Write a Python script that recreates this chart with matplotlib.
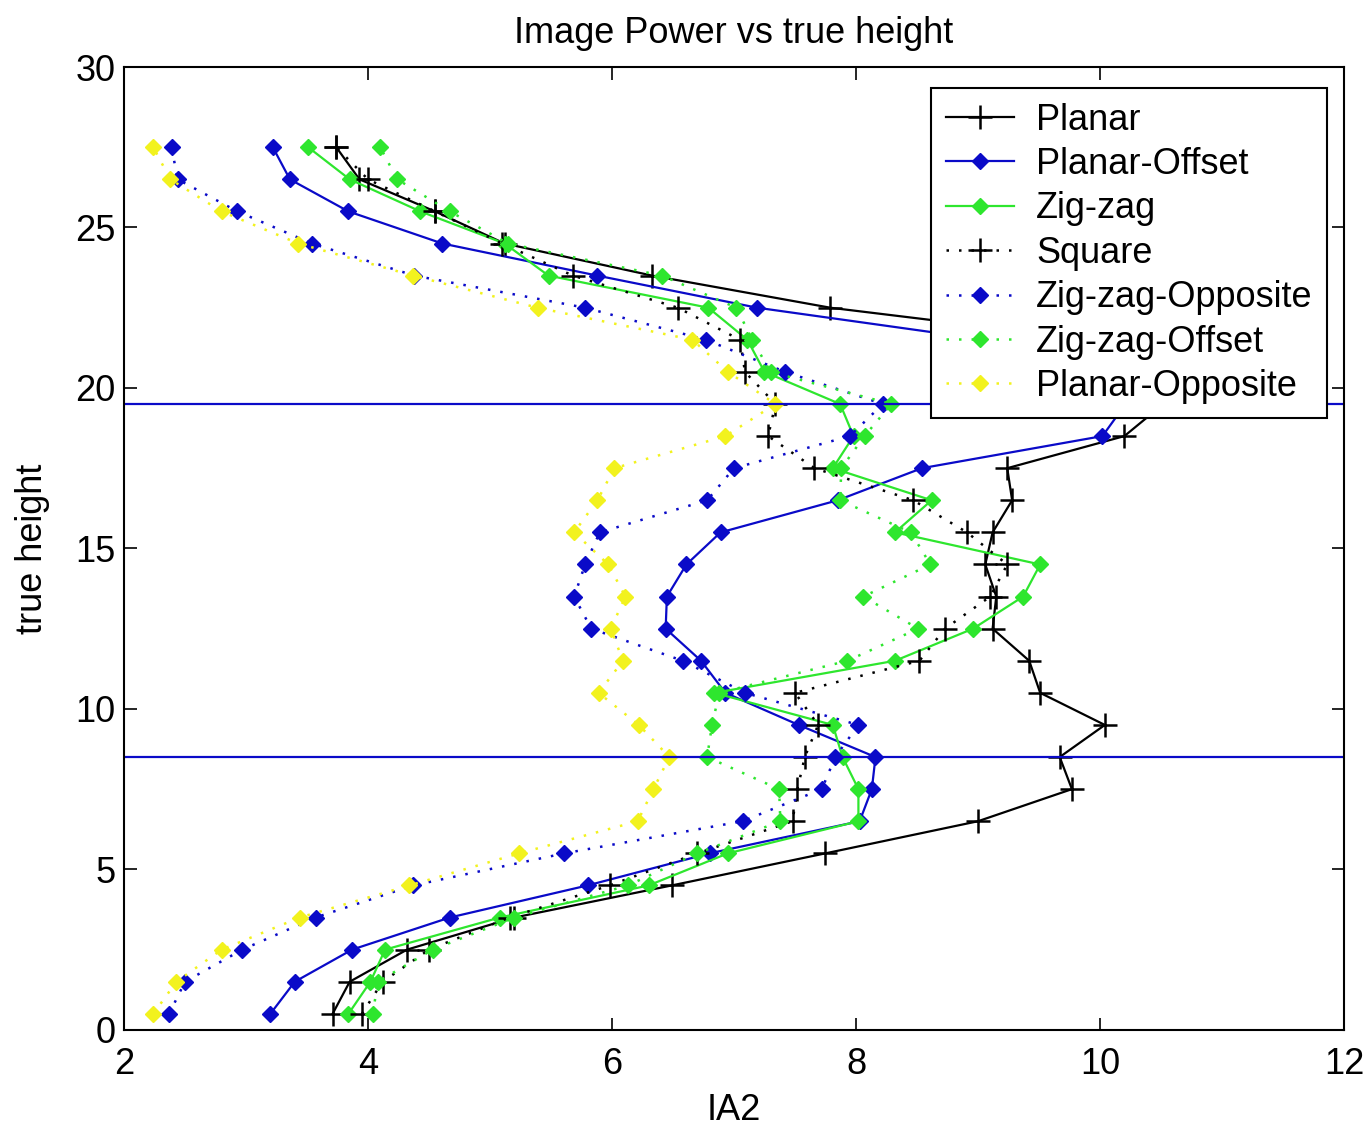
import matplotlib
matplotlib.use("Agg")
import matplotlib.pyplot as plt

plt.rcParams['font.family'] = ['Liberation Sans', 'DejaVu Sans']

# sample heights (true height)
heights = [0.5, 1.5, 2.5, 3.5, 4.5, 5.5, 6.5, 7.5, 8.5, 9.5, 10.5, 11.5, 12.5, 13.5,
           14.5, 15.5, 16.5, 17.5, 18.5, 19.5, 20.5, 21.5, 22.5, 23.5, 24.5, 25.5, 26.5, 27.5]

# IA2 values per configuration, bottom to top
planar = [3.71, 3.85, 4.32, 5.20, 6.49, 7.75, 9.00, 9.77, 9.67, 10.04, 9.51, 9.42, 9.12, 9.15,
          9.06, 9.12, 9.28, 9.24, 10.20, 10.52, 10.40, 9.95, 7.79, 6.33, 5.12, 4.55, 3.93, 3.74]
planar_offset = [3.20, 3.40, 3.87, 4.67, 5.80, 6.80, 8.03, 8.13, 8.16, 7.53, 6.93, 6.73, 6.44, 6.45,
                 6.61, 6.89, 7.85, 8.54, 10.02, 10.21, 9.80, 9.07, 7.19, 5.88, 4.61, 3.84, 3.36, 3.22]
zigzag = [3.84, 4.02, 4.14, 5.08, 6.30, 6.95, 8.02, 8.02, 7.89, 7.81, 6.84, 8.32, 8.96, 9.37,
          9.51, 8.32, 8.62, 7.81, 7.98, 7.87, 7.25, 7.11, 6.79, 5.48, 5.12, 4.43, 3.85, 3.51]
square = [3.95, 4.12, 4.50, 5.16, 5.98, 6.70, 7.48, 7.52, 7.58, 7.69, 7.50, 8.52, 8.73, 9.10,
          9.24, 8.91, 8.47, 7.66, 7.28, 7.34, 7.09, 7.05, 6.54, 5.68, 5.10, 4.55, 4.00, 3.74]
zigzag_opposite = [2.37, 2.50, 2.97, 3.57, 4.37, 5.61, 7.07, 7.72, 7.83, 8.02, 7.09, 6.58, 5.83, 5.69,
                   5.78, 5.90, 6.78, 7.00, 7.95, 8.22, 7.42, 6.77, 5.78, 4.38, 3.54, 2.93, 2.44, 2.39]
zigzag_offset = [4.04, 4.08, 4.53, 5.20, 6.13, 6.70, 7.38, 7.37, 6.78, 6.82, 6.88, 7.93, 8.51, 8.06,
                 8.61, 8.45, 7.87, 7.88, 8.07, 8.29, 7.30, 7.15, 7.02, 6.41, 5.15, 4.67, 4.24, 4.10]
planar_opposite = [2.24, 2.43, 2.80, 3.44, 4.34, 5.24, 6.21, 6.34, 6.47, 6.22, 5.89, 6.09, 5.99, 6.11,
                   5.97, 5.69, 5.88, 6.02, 6.93, 7.34, 6.95, 6.66, 5.39, 4.37, 3.43, 2.80, 2.38, 2.24]

boundaries = [19.5, 8.5]

blue = '#0a0ac8'
green = '#2ee62e'
yellow = '#f2f21e'
dot = (0, (1, 4))
fs = 26

fig = plt.figure(figsize=(13.7, 11.28), dpi=100)
ax = fig.add_axes([0.0905, 0.087, 0.8905, 0.8536])

ax.plot(planar, heights, color='k', ls='-', lw=1.6, marker='+', ms=17, mew=1.8, label='Planar')
ax.plot(planar_offset, heights, color=blue, ls='-', lw=1.6, marker='D', ms=8, label='Planar-Offset')
ax.plot(zigzag, heights, color=green, ls='-', lw=1.6, marker='D', ms=8, label='Zig-zag')
ax.plot(square, heights, color='k', ls=dot, lw=1.8, marker='+', ms=17, mew=1.8, label='Square')
ax.plot(zigzag_opposite, heights, color=blue, ls=dot, lw=1.8, marker='D', ms=8, label='Zig-zag-Opposite')
ax.plot(zigzag_offset, heights, color=green, ls=dot, lw=1.8, marker='D', ms=8, label='Zig-zag-Offset')
ax.plot(planar_opposite, heights, color=yellow, ls=dot, lw=1.8, marker='D', ms=8, label='Planar-Opposite')

for b in boundaries:
    ax.axhline(b, color=blue, lw=1.6)

ax.set_xlim(2, 12)
ax.set_ylim(0, 30)
ax.set_xticks([2, 4, 6, 8, 10, 12])
ax.set_yticks([0, 5, 10, 15, 20, 25, 30])
ax.tick_params(direction='in', length=9, width=1.2, labelsize=fs, top=True, right=True)
ax.tick_params(axis='x', pad=12)
ax.tick_params(axis='y', pad=6)
for s in ax.spines.values():
    s.set_linewidth(1.5)

ax.set_title('Image Power vs true height', fontsize=fs, pad=17)
ax.set_xlabel('IA2', fontsize=fs, labelpad=8)
ax.set_ylabel('true height', fontsize=fs, labelpad=18)

leg = ax.legend(loc='upper right', bbox_to_anchor=(0.986, 0.978), fontsize=fs,
                fancybox=False, framealpha=1, edgecolor='k', numpoints=1,
                handlelength=1.9, handletextpad=0.6, borderpad=0.4, labelspacing=0.26,
                borderaxespad=0)
leg.get_frame().set_linewidth(1.5)

plt.savefig('out.png', dpi=100)
